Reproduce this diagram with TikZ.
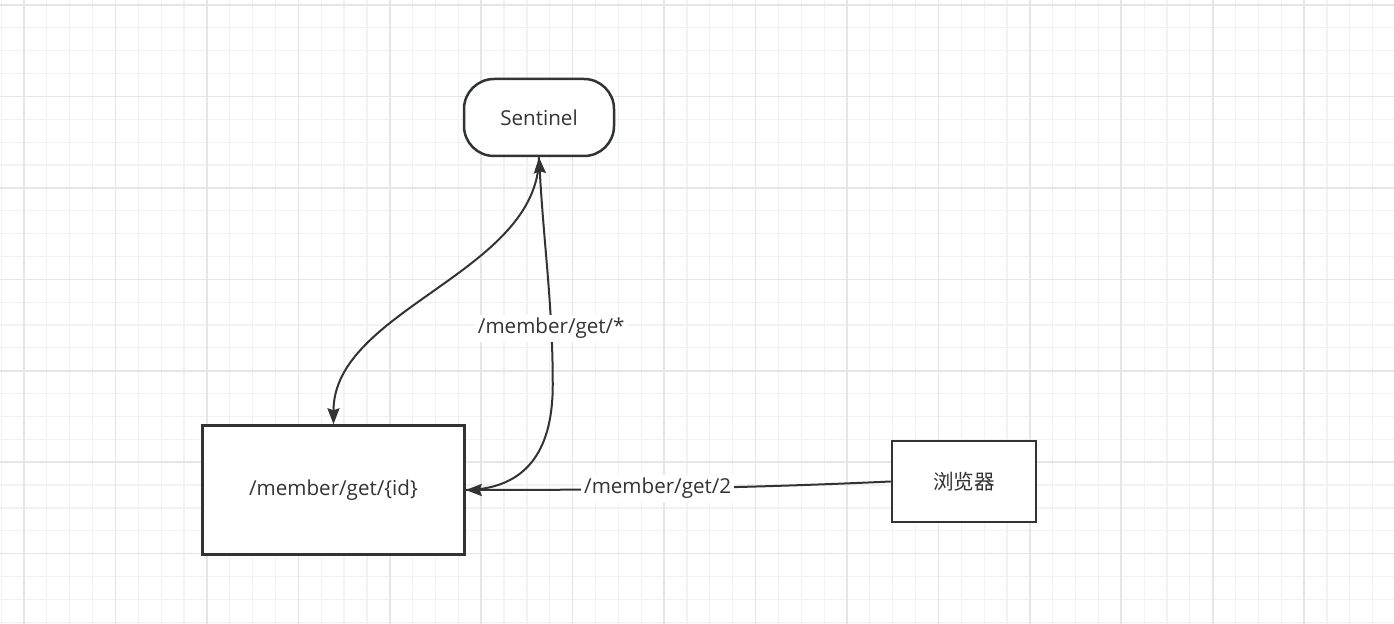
\documentclass[tikz,border=0pt]{standalone}
\usepackage{fontspec}
\setmainfont{Open Sans}
\newfontfamily\cjk{Noto Sans CJK SC}
\usetikzlibrary{arrows.meta}
\definecolor{gridminor}{HTML}{F2F2F2}
\definecolor{gridmajor}{HTML}{E6E6E6}
\definecolor{ink}{HTML}{333333}
\definecolor{border}{HTML}{303438}
\tikzset{
  minorline/.style={draw=gridminor, line width=0.6pt},
  majorline/.style={draw=gridmajor, line width=0.8pt},
  shapebox/.style={draw=border, line width=1.25pt, fill=white, text=ink, font=\fontsize{10.3}{12}\selectfont, inner sep=0pt},
  edge/.style={draw=ink, line width=1pt, -{Stealth[length=8pt,width=6pt,inset=1pt]}},
  lbl/.style={fill=white, text=ink, font=\fontsize{10.3}{12}\selectfont, inner sep=1.5pt},
}
\begin{document}
\begin{tikzpicture}[x=0.5pt,y=-0.5pt]
\useasboundingbox (0,0) rectangle (1394,624);
\fill[white] (0,0) rectangle (1394,624);
% grid
\foreach \i in {0,...,61} {
  \pgfmathsetmacro{\gx}{1.14+22.86*\i}
  \draw[minorline] (\gx,0) -- (\gx,624);
}
\foreach \i in {0,...,27} {
  \pgfmathsetmacro{\gy}{5+22.86*\i}
  \draw[minorline] (0,\gy) -- (1394,\gy);
}
\foreach \i in {0,...,15} {
  \pgfmathsetmacro{\gx}{24+91.44*\i}
  \draw[majorline] (\gx,0) -- (\gx,624);
}
\foreach \i in {0,...,6} {
  \pgfmathsetmacro{\gy}{5+91.44*\i}
  \draw[majorline] (0,\gy) -- (1394,\gy);
}
% nodes
\node[shapebox, rounded corners=15pt, minimum width=75pt, minimum height=38.5pt] (sentinel) at (539,117.5) {Sentinel};
\node[shapebox, minimum width=131pt, minimum height=64.5pt] (mid) at (333.5,490) {/member/get/\{id\}};
\node[shapebox, minimum width=72pt, minimum height=40.5pt] (browser) at (964,481.5) {\cjk 浏览器};
% edges
\draw[edge] (sentinel.south) .. controls +(0,115) and +(0,-115) .. (mid.north);
\draw[edge] (mid.east) .. controls +(65,-1) and +(0,60) .. ++(87,-105)
   .. controls +(0,-80) and +(5,90) .. node[lbl, pos=0.25] (lblstar) {/member/get/*} (sentinel.south);
\draw[edge] (browser.west) .. controls +(-130,6) and +(170,0) .. node[lbl, pos=0.585] (lbltwo) {/member/get/2} (mid.east);
\end{tikzpicture}
\end{document}
